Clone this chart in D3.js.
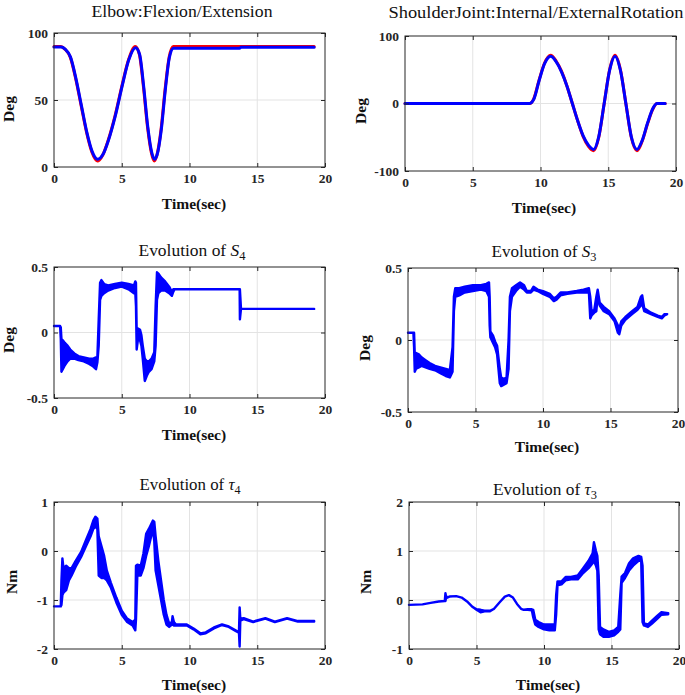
<!DOCTYPE html>
<html><head><meta charset="utf-8">
<script src="https://cdn.jsdelivr.net/npm/d3@7"></script>
<style>body{margin:0;background:#fff}svg{display:block}</style>
</head><body>
<svg id="c" width="685" height="695"></svg>
<script>
// ---------------- data ----------------
const timeTicks = [0, 5, 10, 15, 20];
const timeTickLabels = ["0", "5", "10", "15", "20"];

const elbowTicks = [0, 50, 100];
const elbowTickLabels = ["0", "50", "100"];
const shoulderTicks = [-100, 0, 100];
const shoulderTickLabels = ["-100", "0", "100"];
const sTicks = [-0.5, 0, 0.5];
const sTickLabels = ["-0.5", "0", "0.5"];
const tau4Ticks = [-2, -1, 0, 1];
const tau4TickLabels = ["-2", "-1", "0", "1"];
const tau3Ticks = [-1, 0, 1, 2];
const tau3TickLabels = ["-1", "0", "1", "2"];

// Elbow flexion/extension: reference (red) and actual (blue), [t, deg]
const elbowRef = [[0,90],[0.5,90],[0.8,88],[1.2,82],[1.6,66],[2.0,46],[2.4,26],[2.8,11],[3.2,4.5],[3.6,9],[4.0,20],[4.5,38],[5.0,60],[5.5,80],[6.0,90],[6.3,84],[6.6,60],[6.9,30],[7.2,10],[7.4,4.5],[7.6,9],[7.9,28],[8.2,58],[8.5,82],[8.8,90],[19.2,90]];
const elbowAct = [[0,89.5],[0.53,89.5],[0.82,88],[1.22,82],[1.62,66],[2.02,46],[2.42,26],[2.82,11.5],[3.22,5.8],[3.62,9.5],[4.02,20],[4.52,38],[5.02,60],[5.52,80],[6.02,89],[6.32,84],[6.62,60],[6.92,30],[7.22,10.5],[7.42,5.8],[7.62,9.5],[7.92,28],[8.22,58],[8.52,82],[8.82,88.6],[13.7,88.6],[13.8,89.3],[19.2,89.3]];

// Shoulder internal/external rotation, [t, deg]
const shoulderRef = [[0,0],[9.2,0],[9.5,7],[9.9,35],[10.3,60],[10.75,71.5],[11.15,63],[11.55,48],[11.95,26],[12.35,0],[12.75,-26],[13.15,-49],[13.55,-64],[13.92,-70],[14.3,-50],[14.7,0],[15.1,50],[15.5,71.5],[15.9,50],[16.3,0],[16.7,-50],[17.12,-70],[17.5,-56],[17.9,-30],[18.3,-8],[18.6,0],[19.2,0]];
const shoulderAct = [[0,0],[9.2,0],[9.5,6],[9.9,34],[10.3,59],[10.75,70],[11.15,62],[11.55,47],[11.95,26],[12.35,0],[12.75,-26],[13.15,-48],[13.55,-62],[13.92,-68],[14.3,-49],[14.7,0],[15.1,49],[15.5,70],[15.9,49],[16.3,0],[16.7,-49],[17.12,-68],[17.5,-55],[17.9,-29],[18.3,-7],[18.6,0],[19.2,0]];

// Sliding surfaces and torques: [t, lower, upper] envelope of the (noisy) trace
const s4Band = [[0,0.05,0.05],[0.45,0.05,0.05],[0.5,-0.05,0.04],[0.55,-0.3,-0.05],[0.65,-0.28,-0.06],[0.8,-0.25,-0.08],[1.0,-0.22,-0.1],[1.2,-0.2,-0.13],[1.5,-0.2,-0.16],[1.8,-0.21,-0.18],[2.2,-0.22,-0.19],[2.6,-0.24,-0.2],[2.9,-0.26,-0.2],[3.1,-0.28,-0.19],[3.2,-0.23,-0.19],[3.3,-0.1,0.1],[3.4,0.25,0.38],[3.5,0.28,0.4],[3.7,0.3,0.37],[4.0,0.32,0.36],[4.5,0.34,0.37],[5.0,0.35,0.38],[5.5,0.33,0.37],[5.9,0.3,0.36],[6.0,0.3,0.39],[6.05,0.2,0.38],[6.1,-0.13,0.02],[6.2,-0.05,0.03],[6.35,-0.06,0.02],[6.45,-0.1,-0.02],[6.55,-0.2,-0.1],[6.7,-0.37,-0.2],[6.85,-0.33,-0.22],[7.0,-0.3,-0.22],[7.2,-0.28,-0.2],[7.4,-0.22,-0.15],[7.5,-0.1,0.2],[7.6,0.25,0.46],[7.7,0.3,0.45],[7.9,0.32,0.42],[8.2,0.32,0.39],[8.5,0.3,0.35],[8.7,0.28,0.31],[8.8,0.31,0.33],[8.9,0.33,0.33],[13.7,0.33,0.33],[13.72,0.1,0.33],[13.8,0.18,0.18],[19.2,0.18,0.18]];

const s3Band = [[0,0.05,0.05],[0.4,0.05,0.05],[0.45,-0.05,0.05],[0.5,-0.22,-0.1],[0.6,-0.2,-0.09],[0.8,-0.19,-0.1],[1.0,-0.18,-0.12],[1.3,-0.19,-0.14],[1.6,-0.2,-0.16],[2.0,-0.21,-0.18],[2.4,-0.23,-0.19],[2.8,-0.25,-0.2],[3.1,-0.26,-0.21],[3.3,-0.22,-0.05],[3.4,0.2,0.3],[3.5,0.3,0.36],[3.8,0.31,0.36],[4.2,0.33,0.37],[4.8,0.34,0.38],[5.4,0.35,0.38],[5.8,0.34,0.39],[6.0,0.3,0.4],[6.05,0.1,0.3],[6.1,0.02,0.06],[6.3,-0.02,0.03],[6.45,-0.05,-0.01],[6.6,-0.1,-0.04],[6.8,-0.3,-0.2],[6.9,-0.32,-0.26],[7.1,-0.31,-0.27],[7.3,-0.3,-0.26],[7.45,-0.2,0],[7.55,0.2,0.3],[7.7,0.3,0.36],[8.0,0.34,0.38],[8.3,0.37,0.4],[8.6,0.35,0.38],[8.8,0.33,0.34],[9.1,0.33,0.34],[9.3,0.35,0.37],[9.6,0.34,0.35],[10.0,0.32,0.34],[10.5,0.3,0.32],[10.8,0.27,0.29],[11.0,0.28,0.3],[11.3,0.31,0.33],[11.8,0.32,0.33],[12.5,0.33,0.34],[13.0,0.33,0.35],[13.4,0.33,0.36],[13.5,0.15,0.3],[13.6,0.17,0.2],[13.8,0.19,0.21],[13.95,0.2,0.3],[14.05,0.3,0.35],[14.2,0.24,0.26],[14.5,0.2,0.23],[14.9,0.18,0.2],[15.3,0.13,0.15],[15.55,0.05,0.1],[15.65,0.04,0.08],[15.8,0.1,0.13],[16.1,0.14,0.16],[16.6,0.18,0.2],[17.0,0.21,0.23],[17.25,0.24,0.3],[17.35,0.25,0.31],[17.5,0.2,0.22],[18.0,0.18,0.19],[18.5,0.16,0.17],[18.8,0.15,0.16],[19.0,0.17,0.18],[19.2,0.18,0.18]];

const tau4Band = [[0,-1.13,-1.13],[0.5,-1.13,-1.13],[0.55,-1.1,-0.6],[0.62,-0.9,-0.15],[0.7,-0.85,-0.35],[0.9,-0.8,-0.3],[1.1,-0.6,-0.35],[1.3,-0.5,-0.35],[1.6,-0.32,-0.2],[2.0,-0.12,-0.02],[2.4,0.12,0.25],[2.7,0.3,0.45],[2.9,0.45,0.62],[3.05,0.5,0.7],[3.2,0.45,0.66],[3.3,-0.5,0.3],[3.5,-0.55,0.1],[3.7,-0.55,-0.1],[3.9,-0.6,-0.4],[4.2,-0.75,-0.65],[4.6,-1.05,-0.95],[5.0,-1.3,-1.22],[5.4,-1.45,-1.38],[5.8,-1.52,-1.45],[6.0,-1.62,-1.4],[6.05,-1.4,-0.3],[6.15,-0.5,-0.28],[6.4,-0.5,-0.3],[6.6,-0.35,-0.05],[6.8,-0.1,0.35],[7.0,0.1,0.45],[7.3,0.45,0.62],[7.4,0.2,0.6],[7.5,-0.4,0.3],[7.7,-0.7,-0.2],[7.9,-1.0,-0.6],[8.1,-1.3,-1.0],[8.3,-1.5,-1.3],[8.5,-1.55,-1.48],[8.7,-1.5,-1.45],[8.75,-1.5,-1.33],[8.85,-1.52,-1.45],[9.0,-1.52,-1.5],[9.8,-1.52,-1.5],[10.3,-1.6,-1.58],[10.8,-1.7,-1.68],[11.2,-1.68,-1.66],[11.8,-1.58,-1.56],[12.4,-1.51,-1.5],[12.9,-1.55,-1.54],[13.4,-1.63,-1.62],[13.65,-1.67,-1.66],[13.7,-1.95,-1.15],[13.75,-1.42,-1.38],[14.0,-1.39,-1.37],[14.7,-1.45,-1.44],[15.6,-1.38,-1.37],[16.3,-1.45,-1.44],[17.2,-1.38,-1.37],[18.0,-1.44,-1.43],[19.2,-1.44,-1.43]];

const tau3Band = [[0,-0.1,-0.1],[1.0,-0.09,-0.09],[1.6,-0.06,-0.06],[2.2,-0.03,-0.03],[2.65,-0.02,-0.02],[2.7,-0.02,0.14],[2.75,0.04,0.06],[3.0,0.07,0.07],[3.5,0.08,0.08],[3.9,0.05,0.05],[4.3,-0.03,-0.03],[4.7,-0.14,-0.14],[5.0,-0.2,-0.19],[5.3,-0.25,-0.2],[5.6,-0.23,-0.22],[6.0,-0.23,-0.22],[6.3,-0.18,-0.18],[6.7,-0.05,-0.05],[7.1,0.07,0.07],[7.4,0.1,0.1],[7.7,0.05,0.05],[8.0,-0.08,-0.08],[8.3,-0.18,-0.18],[8.5,-0.2,-0.2],[8.8,-0.2,-0.19],[9.1,-0.21,-0.19],[9.2,-0.35,-0.2],[9.35,-0.5,-0.4],[9.6,-0.55,-0.45],[10.0,-0.6,-0.5],[10.4,-0.62,-0.5],[10.8,-0.62,-0.5],[10.9,-0.3,0.1],[11.0,0.3,0.38],[11.3,0.32,0.38],[11.6,0.4,0.47],[12.0,0.42,0.47],[12.5,0.42,0.5],[12.9,0.55,0.65],[13.3,0.65,0.8],[13.6,0.75,0.95],[13.7,0.8,1.18],[13.85,0.7,1.0],[13.95,0.6,0.9],[14.05,-0.6,0.5],[14.15,-0.7,-0.55],[14.4,-0.75,-0.6],[14.8,-0.75,-0.65],[15.2,-0.72,-0.62],[15.5,-0.65,-0.55],[15.65,-0.6,0.1],[15.75,0.35,0.48],[16.0,0.45,0.55],[16.3,0.6,0.75],[16.6,0.7,0.85],[17.0,0.8,0.9],[17.2,0.8,0.88],[17.3,-0.45,0.7],[17.4,-0.52,-0.48],[17.7,-0.55,-0.5],[18.0,-0.48,-0.42],[18.4,-0.38,-0.32],[18.7,-0.3,-0.25],[19.2,-0.29,-0.27]];

// ---------------- layout ----------------
const panels = [
  {L:54,R:325,T:33,B:167, yDom:[0,100], yt:elbowTicks, ytl:elbowTickLabels, lines:[[elbowRef,"#ff0000"],[elbowAct,"#0000ff"]],
   title:[{t:"Elbow:Flexion/Extension"}], tx:182, ty:17, tw:181, xlx:194, xly:209, yl:"Deg", ylx:14, yly:109},
  {L:405,R:676,T:36,B:171, yDom:[-100,100], yt:shoulderTicks, ytl:shoulderTickLabels, lines:[[shoulderRef,"#ff0000"],[shoulderAct,"#0000ff"]],
   title:[{t:"ShoulderJoint:Internal/ExternalRotation"}], tx:536, ty:18, tw:295, xlx:544, xly:213, yl:"Deg", ylx:366, yly:111},
  {L:54,R:325,T:267,B:398, yDom:[-0.5,0.5], yt:sTicks, ytl:sTickLabels, band:s4Band,
   title:[{t:"Evolution of "},{t:"S",i:1},{t:"4",sub:1}], tx:192, ty:256, tw:107, xlx:194, xly:440, yl:"Deg", ylx:14, yly:340},
  {L:408,R:678,T:268,B:412, yDom:[-0.5,0.5], yt:sTicks, ytl:sTickLabels, band:s3Band,
   title:[{t:"Evolution of "},{t:"S",i:1},{t:"3",sub:1}], tx:544, ty:257, tw:105, xlx:547, xly:452, yl:"Deg", ylx:370, yly:348},
  {L:54,R:325,T:502,B:649, yDom:[-2,1], yt:tau4Ticks, ytl:tau4TickLabels, band:tau4Band,
   title:[{t:"Evolution of "},{t:"τ",i:1},{t:"4",sub:1}], tx:190, ty:490, tw:101, xlx:194, xly:690, yl:"Nm", ylx:17, yly:582},
  {L:409,R:679,T:502,B:649, yDom:[-1,2], yt:tau3Ticks, ytl:tau3TickLabels, band:tau3Band,
   title:[{t:"Evolution of "},{t:"τ",i:1},{t:"3",sub:1}], tx:545, ty:495, tw:104, xlx:548, xly:690, yl:"Nm", ylx:371, yly:582}
];

const svg = d3.select("#c");
const axisColor = "#262626";
const tickFont = "'Liberation Serif', 'Times New Roman', serif";

panels.forEach(p => {
  const x = d3.scaleLinear().domain([0, 20]).range([p.L, p.R]);
  const y = d3.scaleLinear().domain(p.yDom).range([p.B, p.T]);
  const g = svg.append("g");

  // grid
  g.append("g").selectAll("line").data(timeTicks.slice(1, -1)).join("line")
    .attr("x1", d => x(d)).attr("x2", d => x(d)).attr("y1", p.T).attr("y2", p.B)
    .attr("stroke", "#e3e3e3").attr("stroke-width", 1);
  g.append("g").selectAll("line").data(p.yt.slice(1, -1)).join("line")
    .attr("y1", d => y(d)).attr("y2", d => y(d)).attr("x1", p.L).attr("x2", p.R)
    .attr("stroke", "#e3e3e3").attr("stroke-width", 1);

  // data
  if (p.lines) {
    p.lines.forEach(([data, color]) => {
      g.append("path").datum(data)
        .attr("d", d3.line().x(d => x(d[0])).y(d => y(d[1])).curve(d3.curveMonotoneX))
        .attr("fill", "none").attr("stroke", color).attr("stroke-width", 3)
        .attr("stroke-linejoin", "round").attr("stroke-linecap", "round");
    });
  }
  if (p.band) {
    g.append("path").datum(p.band)
      .attr("d", d3.area().x(d => x(d[0])).y0(d => y(d[1])).y1(d => y(d[2])))
      .attr("fill", "#0000ff").attr("stroke", "#0000ff").attr("stroke-width", 2.4)
      .attr("stroke-linejoin", "round").attr("stroke-linecap", "round");
  }

  // axes
  const styleAxis = sel => {
    sel.select(".domain").remove();
    sel.selectAll(".tick line").attr("stroke", axisColor);
    sel.selectAll("text").attr("fill", axisColor).attr("font-family", tickFont)
      .attr("font-weight", "bold").attr("font-size", 13.5);
  };
  g.append("g").attr("transform", `translate(0,${p.B})`)
    .call(d3.axisBottom(x).tickValues(timeTicks).tickFormat((d, i) => timeTickLabels[i]).tickSize(-4).tickPadding(6))
    .call(styleAxis);
  g.append("g").attr("transform", `translate(0,${p.T})`)
    .call(d3.axisTop(x).tickValues(timeTicks).tickFormat("").tickSize(-4))
    .call(styleAxis);
  g.append("g").attr("transform", `translate(${p.L},0)`)
    .call(d3.axisLeft(y).tickValues(p.yt).tickFormat((d, i) => p.ytl[i]).tickSize(-4).tickPadding(6))
    .call(styleAxis);
  g.append("g").attr("transform", `translate(${p.R},0)`)
    .call(d3.axisRight(y).tickValues(p.yt).tickFormat("").tickSize(-4))
    .call(styleAxis);
  g.append("rect").attr("x", p.L).attr("y", p.T).attr("width", p.R - p.L).attr("height", p.B - p.T)
    .attr("fill", "none").attr("stroke", axisColor).attr("stroke-width", 1);

  // title
  const tt = g.append("text").attr("x", p.tx).attr("y", p.ty).attr("text-anchor", "middle")
    .attr("font-family", "'Liberation Serif', 'DejaVu Serif', serif").attr("font-size", 16).attr("fill", "#111")
    .attr("textLength", p.tw).attr("lengthAdjust", "spacingAndGlyphs");
  p.title.forEach(s => {
    const ts = tt.append("tspan").text(s.t);
    if (s.i) ts.attr("font-style", "italic");
    if (s.sub) ts.attr("font-size", 11.5).attr("dy", 3.5);
  });

  // axis labels
  g.append("text").attr("x", p.xlx).attr("y", p.xly).attr("text-anchor", "middle")
    .attr("font-family", tickFont).attr("font-weight", "bold").attr("font-size", 15.5).attr("fill", "#111")
    .text("Time(sec)");
  g.append("text").attr("transform", `translate(${p.ylx},${p.yly}) rotate(-90)`).attr("text-anchor", "middle")
    .attr("font-family", tickFont).attr("font-weight", "bold").attr("font-size", 15.5).attr("fill", "#111")
    .text(p.yl);
});
</script>
</body></html>
